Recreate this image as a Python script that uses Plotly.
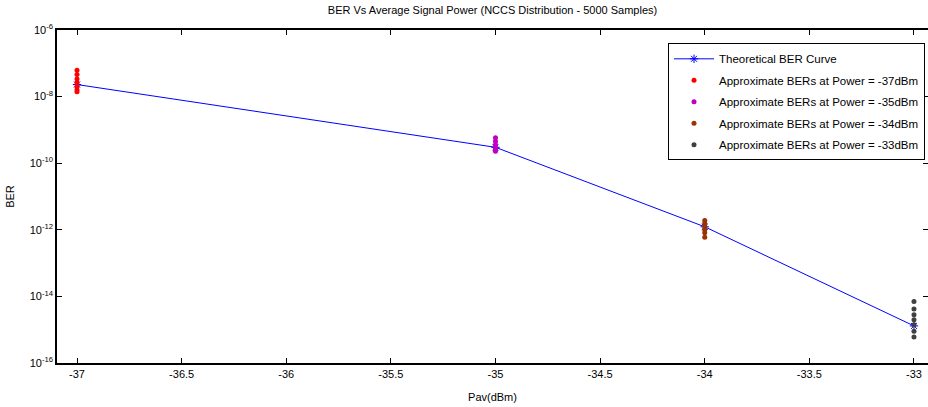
import numpy as np
import plotly.graph_objects as go

power = [-37, -35, -34, -33]
theory_ber = [2.3e-8, 3.0e-10, 1.23e-12, 1.3e-15]

ber_37 = [6.2e-8, 4.6e-8, 3.4e-8, 2.6e-8, 2.0e-8, 1.6e-8, 1.4e-8]
ber_35 = [5.8e-10, 4.6e-10, 2.6e-10, 3.6e-10, 2.9e-10, 2.3e-10]
ber_34 = [1.9e-12, 1.55e-12, 1.25e-12, 1.0e-12, 8.2e-13, 6.0e-13]
ber_33 = [7.0e-15, 4.2e-15, 2.8e-15, 2.0e-15, 1.4e-15, 9.0e-16, 6.0e-16]

scatter_sets = [
    (-37, ber_37, "#ff0000", "Approximate BERs at Power = -37dBm"),
    (-35, ber_35, "#c000c0", "Approximate BERs at Power = -35dBm"),
    (-34, ber_34, "#993300", "Approximate BERs at Power = -34dBm"),
    (-33, ber_33, "#404040", "Approximate BERs at Power = -33dBm"),
]

font = "Liberation Sans, Arial, sans-serif"

fig = go.Figure()
fig.add_trace(go.Scatter(
    x=power, y=theory_ber, mode="lines+markers", name="Theoretical BER Curve",
    legendgroup="g0",
    line=dict(color="#0000ff", width=1),
    marker=dict(symbol="asterisk-open", size=7, color="#0000ff", line=dict(color="#0000ff", width=1)),
))
for i, (p, vals, col, name) in enumerate(scatter_sets):
    fig.add_trace(go.Scatter(
        x=[p] * len(vals), y=vals, mode="markers", name=name,
        legendgroup=f"g{i+1}",
        marker=dict(symbol="circle", size=5, color=col),
    ))

yticks = [1e-16, 1e-14, 1e-12, 1e-10, 1e-8, 1e-6]
ytext = ["10<sup>-16</sup>", "10<sup>-14</sup>", "10<sup>-12</sup>", "10<sup>-10</sup>", "10<sup>-8</sup>", "10<sup>-6</sup>"]
xticks = [-37, -36.5, -36, -35.5, -35, -34.5, -34, -33.5, -33]
xtext = ["-37", "-36.5", "-36", "-35.5", "-35", "-34.5", "-34", "-33.5", "-33"]

fig.update_layout(
    width=928, height=407,
    margin=dict(l=57, r=0, t=29.5, b=44),
    paper_bgcolor="white", plot_bgcolor="white",
    font=dict(family=font, size=11, color="black"),
    title=dict(text="BER Vs Average Signal Power (NCCS Distribution - 5000 Samples)",
               x=0.5, xref="paper", xanchor="center", y=0.975, yanchor="middle",
               font=dict(size=11, family=font)),
    showlegend=True,
    legend=dict(x=0.7015, y=0.96, xanchor="left", yanchor="top",
                bgcolor="white", bordercolor="black", borderwidth=1,
                font=dict(size=11.5, family=font), itemwidth=40,
                tracegroupgap=2.5),
)
fig.update_xaxes(
    range=[-37.0956, -32.933], tickvals=xticks, ticktext=xtext,
    showgrid=False, zeroline=False, showline=True, linecolor="black", linewidth=1.5,
    mirror="allticks", ticks="inside", ticklen=5, tickcolor="black",
    automargin=False,
    title=dict(text="Pav(dBm)", standoff=14, font=dict(size=11)),
)
fig.update_yaxes(
    type="log", range=[-16, -6], tickvals=yticks, ticktext=ytext,
    showgrid=False, zeroline=False, showline=True, linecolor="black", linewidth=1.5,
    mirror="allticks", ticks="inside", ticklen=5, tickcolor="black",
    automargin=False,
    title=dict(text="BER", standoff=13, font=dict(size=11)),
)

fig.write_html("out.html")
